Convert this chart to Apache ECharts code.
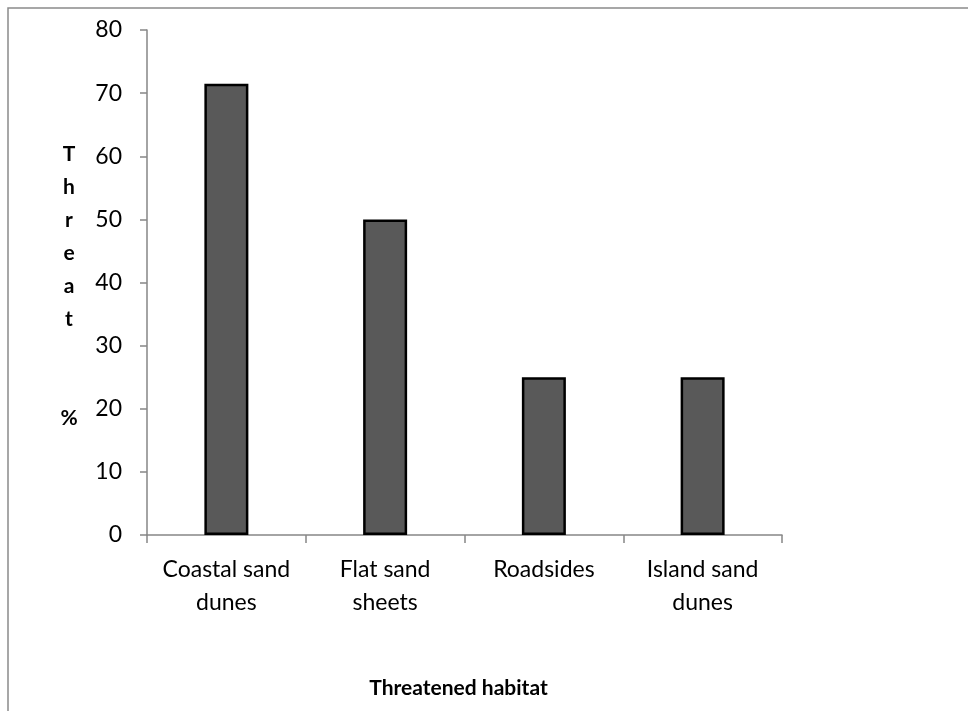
<!DOCTYPE html>
<html>
<head>
<meta charset="utf-8">
<script src="https://cdn.jsdelivr.net/npm/echarts@6/dist/echarts.min.js"></script>
<style>
  html, body { margin: 0; padding: 0; background: #fff; }
  #chart { width: 968px; height: 711px; }
</style>
</head>
<body>
<div id="chart"></div>
<script>
// habitat categories and threat percentages
const habitats = ['Coastal sand\ndunes', 'Flat sand\nsheets', 'Roadsides', 'Island sand\ndunes'];
const threat = [71.5, 50, 25, 25];

const font = 'Lato, "Open Sans", sans-serif';
const chart = echarts.init(document.getElementById('chart'));

chart.setOption({
  animation: false,
  backgroundColor: '#fff',
  grid: { left: 147, right: 186, top: 30, bottom: 176 },
  graphic: [
    {
      // outer chart frame (only top/left visible in the crop)
      type: 'rect',
      shape: { x: 8, y: 8, width: 2000, height: 2000 },
      style: { fill: 'none', stroke: '#8a8a8a', lineWidth: 1.5 },
      silent: true
    },
    {
      type: 'text',
      x: 69, y: 286,
      style: {
        text: 'T\nh\nr\ne\na\nt\n\n\n%',
        font: 'bold 21px ' + font,
        lineHeight: 33,
        fill: '#000',
        align: 'center',
        verticalAlign: 'middle'
      }
    }
  ],
  xAxis: {
    type: 'category',
    data: habitats,
    name: 'Threatened habitat',
    nameLocation: 'middle',
    nameGap: 143,
    nameTextStyle: { fontFamily: font, fontWeight: 'bold', fontSize: 21, color: '#000', padding: [0, 12, 0, 0] },
    axisLine: { lineStyle: { color: '#868686', width: 1.5 } },
    axisTick: { show: true, length: 8, lineStyle: { color: '#868686', width: 1.5 } },
    axisLabel: { fontFamily: font, fontSize: 23, color: '#000', lineHeight: 33, margin: 18, interval: 0 }
  },
  yAxis: {
    type: 'value',
    min: 0, max: 80, interval: 10,
    axisLine: { show: true, lineStyle: { color: '#868686', width: 1.5 } },
    axisTick: { show: true, length: 7, lineStyle: { color: '#868686', width: 1.5 } },
    axisLabel: { fontFamily: font, fontSize: 23, color: '#000', margin: 25 },
    splitLine: { show: false }
  },
  series: [{
    type: 'bar',
    data: threat,
    barWidth: 44,
    itemStyle: { color: '#595959', borderColor: '#000', borderWidth: 2.5 }
  }]
});
</script>
</body>
</html>
